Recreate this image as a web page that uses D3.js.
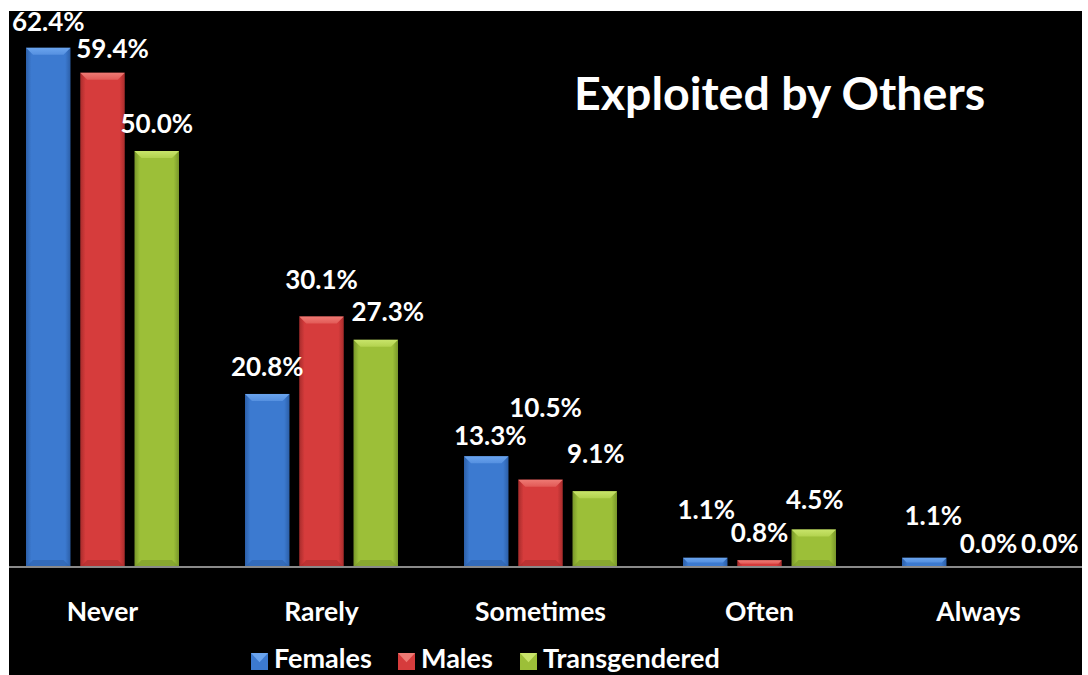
<!DOCTYPE html>
<html>
<head>
<meta charset="utf-8">
<script src="https://cdn.jsdelivr.net/npm/d3@7"></script>
<style>
  html, body { margin: 0; padding: 0; background: #ffffff; }
  svg { display: block; }
  text { font-family: Lato, "Open Sans", sans-serif; font-weight: 700; fill: #ffffff; }
</style>
</head>
<body>
<svg id="chart" width="1088" height="675"></svg>
<script>
// Survey responses: share of each group answering "exploited by others"
const categories = ["Never", "Rarely", "Sometimes", "Often", "Always"];
const seriesNames = ["Females", "Males", "Transgendered"];
const females = [62.4, 20.8, 13.3, 1.1, 1.1];
const males = [59.4, 30.1, 10.5, 0.8, 0.0];
const transgendered = [50.0, 27.3, 9.1, 4.5, 0.0];
const titleText = "Exploited by Others";

// Hand-placed label offsets [dx, dy] from the default spot above each bar
const labelNudge = {
  Females:       [[0, 1], [0, 0], [4, 7], [1, -21], [9, -15]],
  Males:         [[10, 3], [0, -10], [5, -45], [0, 0], [10, 4]],
  Transgendered: [[0, 0], [12, -1], [1, -10], [1, -3], [17, 4]]
};

const seriesValues = { Females: females, Males: males, Transgendered: transgendered };
const palette = {
  Females:       { body: "#3c7ad0", light: "#6aa4ee", dark: "#2c5fa8", edge: "#5590e0" },
  Males:         { body: "#d63c3c", light: "#ee7a74", dark: "#a82c2c", edge: "#e25a56" },
  Transgendered: { body: "#9cbf38", light: "#c8e46a", dark: "#78962a", edge: "#b2d24e" }
};

const W = 1088, H = 675;
const svg = d3.select("#chart");

// frame: white paper with black slide area
svg.append("rect").attr("width", W).attr("height", H).attr("fill", "#ffffff");
svg.append("rect").attr("x", 9).attr("y", 11).attr("width", 1073).attr("height", H - 11).attr("fill", "#000000");

const baseY = 567;
const x0 = d3.scaleBand().domain(categories).range([-7, 1088]).paddingInner(0).paddingOuter(0);
const x1 = d3.scaleBand().domain(seriesNames).range([33, 186]).paddingInner(0.18);
const y = d3.scaleLinear().domain([0, 70]).range([baseY, baseY - 70 * 8.32]);

// gradients for the bevelled bar bodies
const defs = svg.append("defs");
seriesNames.forEach((s, i) => {
  const c = palette[s];
  const g = defs.append("linearGradient").attr("id", "body" + i)
    .attr("x1", "0%").attr("x2", "100%").attr("y1", "0%").attr("y2", "0%");
  g.append("stop").attr("offset", "0%").attr("stop-color", c.dark);
  g.append("stop").attr("offset", "12%").attr("stop-color", c.body);
  g.append("stop").attr("offset", "50%").attr("stop-color", c.body);
  g.append("stop").attr("offset", "88%").attr("stop-color", c.body);
  g.append("stop").attr("offset", "100%").attr("stop-color", c.dark);
  const t = defs.append("linearGradient").attr("id", "top" + i)
    .attr("x1", "0%").attr("x2", "0%").attr("y1", "0%").attr("y2", "100%");
  t.append("stop").attr("offset", "0%").attr("stop-color", c.light);
  t.append("stop").attr("offset", "100%").attr("stop-color", c.edge);
});

const rows = [];
categories.forEach((cat, ci) => {
  seriesNames.forEach((s, si) => {
    rows.push({ cat, ci, s, si, v: seriesValues[s][ci] });
  });
});

const barG = svg.append("g");
rows.forEach(d => {
  if (d.v <= 0) return;
  const bx = x0(d.cat) + x1(d.s);
  const bw = x1.bandwidth();
  const top = y(d.v);
  const h = baseY - top;
  const g = barG.append("g");
  g.append("rect").attr("x", bx).attr("y", top).attr("width", bw).attr("height", h)
    .attr("fill", `url(#body${d.si})`);
  // bevelled top face
  const bev = Math.min(7, h / 2, bw / 4);
  g.append("path")
    .attr("d", `M${bx},${top} L${bx + bw},${top} L${bx + bw - bev},${top + bev} L${bx + bev},${top + bev} Z`)
    .attr("fill", `url(#top${d.si})`);
  // darker bottom bevel
  if (h > 14) {
    g.append("path")
      .attr("d", `M${bx},${baseY} L${bx + bw},${baseY} L${bx + bw - bev},${baseY - bev} L${bx + bev},${baseY - bev} Z`)
      .attr("fill", palette[d.s].dark).attr("opacity", 0.55);
  }
});

// baseline
svg.append("line").attr("x1", 9).attr("x2", 1082).attr("y1", baseY).attr("y2", baseY)
  .attr("stroke", "#8a8a8a").attr("stroke-width", 2);

// value labels
rows.forEach(d => {
  const nd = labelNudge[d.s][d.ci];
  const cx = x0(d.cat) + x1(d.s) + x1.bandwidth() / 2;
  svg.append("text")
    .attr("x", cx + nd[0]).attr("y", y(d.v) - 18 + nd[1])
    .attr("text-anchor", "middle").attr("font-size", 26)
    .text(d.v.toFixed(1) + "%");
});

// category axis
const xAxis = d3.axisBottom(x0).tickSize(0).tickPadding(0);
const axisG = svg.append("g").attr("transform", `translate(0, ${baseY})`).call(xAxis);
axisG.select(".domain").remove();
axisG.selectAll("text").attr("font-size", 26.5).attr("dy", null).attr("y", 54)
  .style("fill", "#ffffff").style("font-family", "Lato, 'Open Sans', sans-serif").style("font-weight", 700);

// title
svg.append("text").attr("x", 574).attr("y", 110).attr("font-size", 46.5).text(titleText);

// legend
const legendX = [251, 398, 520];
const legend = svg.append("g");
seriesNames.forEach((s, i) => {
  const c = palette[s];
  const lx = legendX[i], ly = 653, sz = 17;
  legend.append("rect").attr("x", lx).attr("y", ly).attr("width", sz).attr("height", sz).attr("fill", c.body);
  legend.append("path")
    .attr("d", `M${lx},${ly} L${lx + sz},${ly} L${lx + sz / 2},${ly + sz * 0.55} Z`)
    .attr("fill", c.light);
  legend.append("text").attr("x", lx + sz + 6).attr("y", 668).attr("font-size", 27).text(s);
});
</script>
</body>
</html>
